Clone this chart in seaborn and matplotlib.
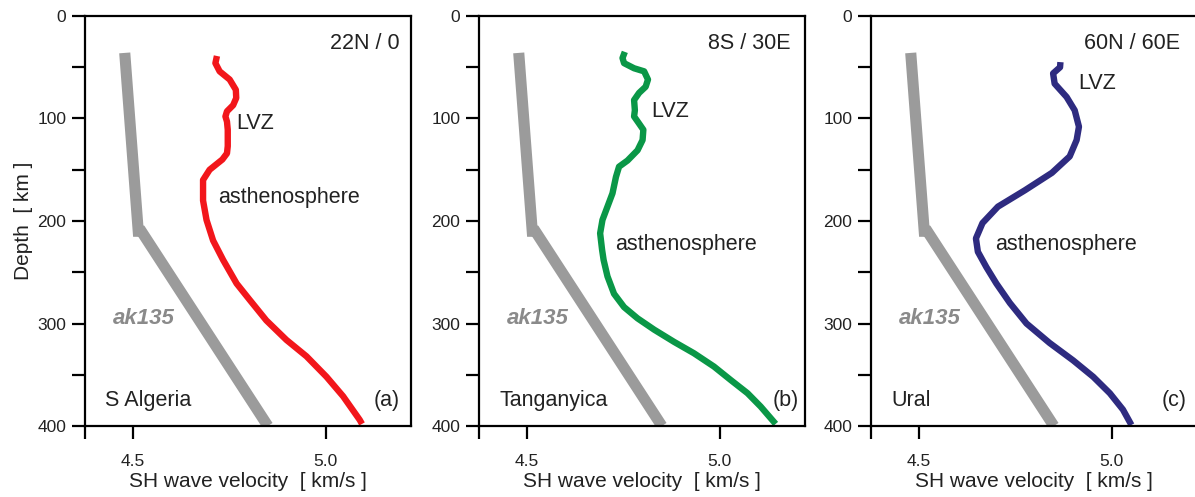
import numpy as np
import pandas as pd
import matplotlib
matplotlib.use("Agg")
import matplotlib.pyplot as plt
import seaborn as sns
from matplotlib.ticker import MultipleLocator, FixedLocator

sns.set_theme(style="ticks")
plt.rcParams['font.family'] = ['Liberation Sans', 'DejaVu Sans']

# ---- data ----
ak135_v = [4.479, 4.514, 4.522, 4.850]
ak135_d = [36, 210, 210, 400]

algeria_v = [4.718, 4.714, 4.725, 4.751, 4.767, 4.768, 4.760, 4.744, 4.740, 4.744,
             4.746, 4.746, 4.744, 4.732, 4.699, 4.682, 4.682, 4.691, 4.708, 4.734,
             4.769, 4.803, 4.846, 4.898, 4.950, 5.002, 5.045, 5.088, 5.094]
algeria_d = [39, 46, 54, 62, 72, 80, 87, 93, 98, 103,
             111, 127, 134, 140, 150, 160, 180, 199, 219, 238,
             261, 277, 297, 316, 332, 352, 371, 394, 398]

tangan_v = [4.754, 4.748, 4.752, 4.778, 4.804, 4.814, 4.808, 4.791, 4.778, 4.780,
            4.778, 4.791, 4.802, 4.800, 4.787, 4.761, 4.739, 4.731, 4.722, 4.709,
            4.696, 4.690, 4.695, 4.699, 4.709, 4.726, 4.752, 4.787, 4.830, 4.882,
            4.933, 4.985, 5.028, 5.072, 5.106, 5.145]
tangan_d = [35, 41, 46, 51, 54, 62, 69, 75, 82, 92,
            98, 105, 111, 121, 131, 141, 147, 157, 173, 186,
            199, 212, 228, 238, 254, 271, 284, 295, 306, 318,
            329, 342, 355, 368, 381, 398]

ural_v = [4.867, 4.866, 4.848, 4.852, 4.883, 4.904, 4.915, 4.909, 4.891, 4.845,
          4.775, 4.705, 4.665, 4.648, 4.653, 4.675, 4.701, 4.736, 4.779, 4.839,
          4.900, 4.952, 4.995, 5.029, 5.051]
ural_d = [45, 50, 56, 66, 79, 92, 108, 121, 137, 153,
          170, 186, 202, 217, 230, 245, 261, 280, 300, 319,
          336, 352, 368, 384, 399]

coords = ["22N / 0", "8S / 30E", "60N / 60E"]
regions = ["S Algeria", "Tanganyica", "Ural"]
letters = ["(a)", "(b)", "(c)"]
series_v = [algeria_v, tangan_v, ural_v]
series_d = [algeria_d, tangan_d, ural_d]
colors = ["#f2161b", "#0a9747", "#2e2b80"]

# text anchor positions (data coords)
coord_pos = [(5.192, 27), (5.184, 27), (5.176, 27)]
lvz_pos = [(4.769, 105), (4.823, 93), (4.913, 66)]
asth_pos = [(4.720, 177), (4.729, 223), (4.697, 223)]
letter_x = [5.192, 5.205, 5.194]

XMIN, XMAX = 4.376, 5.221
txt_col = "#222222"

fig = plt.figure(figsize=(11.95, 4.97), dpi=100)
lefts = [85 / 1195, 479 / 1195, 871 / 1195]
W = 326 / 1195
B = 71 / 497
H = 410 / 497

for i in range(3):
    ax = fig.add_axes([lefts[i], B, W, H])
    ak = pd.DataFrame({"v": ak135_v, "d": ak135_d})
    sns.lineplot(data=ak, x="v", y="d", sort=False, estimator=None, ax=ax,
                 color="#9b9b9b", linewidth=8, solid_capstyle="butt",
                 solid_joinstyle="miter")
    df = pd.DataFrame({"v": series_v[i], "d": series_d[i]})
    sns.lineplot(data=df, x="v", y="d", sort=False, estimator=None, ax=ax,
                 color=colors[i], linewidth=4.6, solid_capstyle="butt",
                 solid_joinstyle="round")
    ax.set_xlim(XMIN, XMAX)
    ax.set_ylim(400, 0)
    ax.xaxis.set_major_locator(FixedLocator([XMIN, 4.5, 5.0]))
    ax.set_xticklabels(["", "4.5", "5.0"])
    ax.yaxis.set_major_locator(MultipleLocator(100))
    ax.yaxis.set_minor_locator(MultipleLocator(50))
    for s in ax.spines.values():
        s.set_linewidth(1.6)
        s.set_color("black")
    ax.tick_params(axis="both", which="both", direction="out", length=9.5,
                   width=1.6, color="black", labelsize=12.5, labelcolor=txt_col)
    ax.tick_params(axis="x", pad=11)
    ax.tick_params(axis="y", pad=4)
    ax.set_xlabel("SH wave velocity  [ km/s ]", fontsize=15, color=txt_col, labelpad=2)
    if i == 0:
        ax.set_ylabel("Depth  [ km ]", fontsize=15, color=txt_col, labelpad=3)
    else:
        ax.set_ylabel("")

    ax.text(coord_pos[i][0], coord_pos[i][1], coords[i], ha="right", va="center",
            fontsize=15.5, color=txt_col)
    ax.text(lvz_pos[i][0], lvz_pos[i][1], "LVZ", ha="left", va="center",
            fontsize=15.5, color=txt_col)
    ax.text(asth_pos[i][0], asth_pos[i][1], "asthenosphere", ha="left", va="center",
            fontsize=15.5, color=txt_col)
    ax.text(4.447, 295, "ak135", ha="left", va="center", fontsize=16,
            fontweight="bold", fontstyle="italic", color="#8a8a8a")
    ax.text(4.428, 375, regions[i], ha="left", va="center", fontsize=15.5, color=txt_col)
    ax.text(letter_x[i], 375, letters[i], ha="right", va="center", fontsize=15.5,
            color=txt_col)

fig.savefig("out.png", dpi=100)
